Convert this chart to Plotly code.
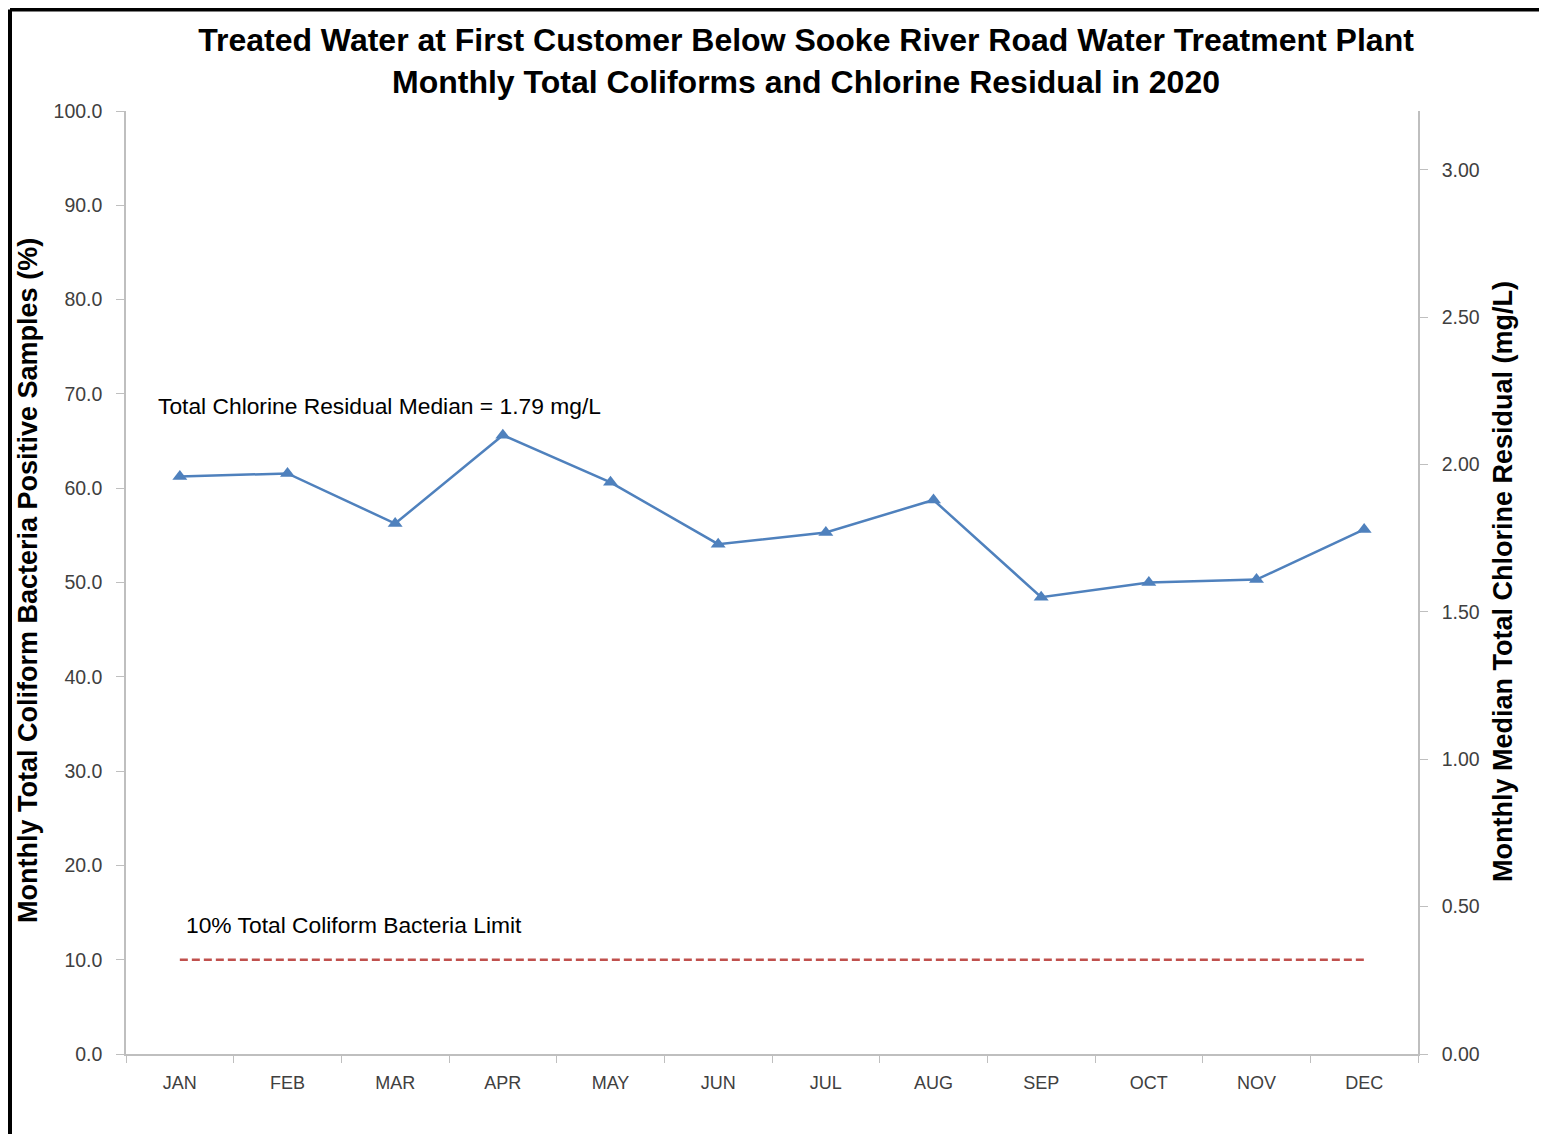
import plotly.graph_objects as go

months = ['JAN', 'FEB', 'MAR', 'APR', 'MAY', 'JUN', 'JUL', 'AUG', 'SEP', 'OCT', 'NOV', 'DEC']
chlorine_median = [1.96, 1.97, 1.80, 2.10, 1.94, 1.73, 1.77, 1.88, 1.55, 1.60, 1.61, 1.78]
coliform_limit = [10.0] * 12

left_ticks = [0, 10, 20, 30, 40, 50, 60, 70, 80, 90, 100]
right_ticks = [0, 0.5, 1.0, 1.5, 2.0, 2.5, 3.0]

# page body has an 8px margin, so the figure is laid out in its own coordinates
OFF = 8
W, H = 1547 - OFF, 1134 - OFF
ML, MR, MT, MB = 126 - OFF, 129, 111 - OFF, 80
pw, ph = W - ML - MR, H - MT - MB


def px_x(x):
    # screenshot pixel -> paper x
    return (x - OFF - ML) / pw


def px_y(y):
    # screenshot pixel -> paper y
    return (H - MB - (y - OFF)) / ph


FONT = 'Liberation Sans, Arial, sans-serif'

fig = go.Figure()

# 10% coliform limit on the left axis
fig.add_trace(go.Scatter(
    x=months, y=coliform_limit, mode='lines',
    line=dict(color='#C0504D', width=2.5, dash='8px,4px'),
    showlegend=False, hoverinfo='skip', yaxis='y'
))

# chlorine residual on the right axis
fig.add_trace(go.Scatter(
    x=months, y=chlorine_median, mode='lines+markers',
    line=dict(color='#4F81BD', width=2.5),
    marker=dict(symbol='triangle-up', size=13, color='#4F81BD'),
    showlegend=False, yaxis='y2'
))

y_tick_font = dict(family=FONT, size=19.5, color='#404040')
x_tick_font = dict(family=FONT, size=18, color='#404040')
line_col = '#BFBFBF'

fig.update_layout(
    width=W, height=H,
    margin=dict(l=ML, r=MR, t=MT, b=MB),
    plot_bgcolor='white', paper_bgcolor='white',
    title=dict(
        text='Treated Water at First Customer Below Sooke River Road Water Treatment Plant<br>'
             'Monthly Total Coliforms and Chlorine Residual in 2020',
        x=(806 - OFF) / W, xref='container', xanchor='center',
        y=1 - (51 - OFF) / H, yref='container', yanchor='middle',
        font=dict(family=FONT, size=32, color='black', weight='bold')
    ),
    xaxis=dict(
        type='category', categoryorder='array', categoryarray=months,
        range=[-0.5, 11.5],
        showline=True, linecolor=line_col, linewidth=1.5,
        ticks='outside', tickson='boundaries', ticklen=7, tickcolor=line_col,
        ticklabelstandoff=12,
        showgrid=False, zeroline=False, tickfont=x_tick_font
    ),
    yaxis=dict(
        range=[0, 100], tickvals=left_ticks, tickformat='.1f',
        showline=True, linecolor=line_col, linewidth=1.5,
        ticks='outside', ticklen=8, tickcolor=line_col,
        ticklabelstandoff=10,
        showgrid=False, zeroline=False, tickfont=y_tick_font
    ),
    yaxis2=dict(
        range=[0, 3.2], tickvals=right_ticks, tickformat='.2f',
        overlaying='y', side='right',
        showline=True, linecolor=line_col, linewidth=1.5,
        ticks='outside', ticklen=8, tickcolor=line_col,
        ticklabelstandoff=10,
        showgrid=False, zeroline=False, tickfont=y_tick_font
    ),
)

title_font = dict(family=FONT, size=27, color='black', weight='bold')
fig.add_annotation(
    text='Monthly Total Coliform Bacteria Positive Samples (%)', textangle=-90,
    xref='paper', yref='paper', x=px_x(28), y=px_y(581),
    xanchor='center', yanchor='middle', showarrow=False, font=title_font
)
fig.add_annotation(
    text='Monthly Median Total Chlorine Residual (mg/L)', textangle=-90,
    xref='paper', yref='paper', x=px_x(1503), y=px_y(582),
    xanchor='center', yanchor='middle', showarrow=False, font=title_font
)

note_font = dict(family=FONT, size=22.8, color='black')
fig.add_annotation(
    text='Total Chlorine Residual Median = 1.79 mg/L',
    xref='paper', yref='paper', x=px_x(156), y=px_y(406),
    xanchor='left', yanchor='middle', showarrow=False, font=note_font
)
fig.add_annotation(
    text='10% Total Coliform Bacteria Limit',
    xref='paper', yref='paper', x=px_x(184), y=px_y(925),
    xanchor='left', yanchor='middle', showarrow=False, font=note_font
)

# black frame on the left and top edges of the picture
fx, fy = px_x(10), px_y(9.5)
fig.add_shape(type='line', xref='paper', yref='paper', x0=fx, x1=fx, y0=-0.2, y1=fy,
              line=dict(color='black', width=4))
fig.add_shape(type='line', xref='paper', yref='paper', x0=fx, x1=px_x(1560), y0=fy, y1=fy,
              line=dict(color='black', width=4))

fig.write_html('out.html')
